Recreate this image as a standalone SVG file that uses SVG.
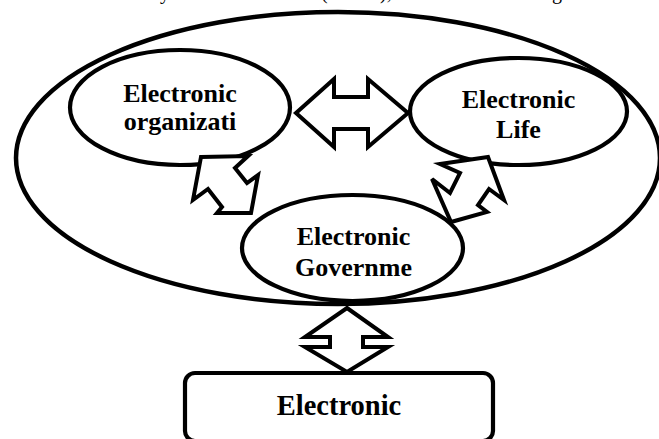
<svg xmlns="http://www.w3.org/2000/svg" width="659" height="439" viewBox="0 0 659 439">
<style>
.sh{fill:none;stroke:#000;stroke-width:4.5}
.nd{fill:#fff;stroke:#000;stroke-width:4.2}
.ar{fill:#fff;stroke:#000;stroke-width:4;stroke-linejoin:miter}
.lb{font-family:"Liberation Serif","Times New Roman",serif;font-weight:bold;font-size:26px;text-anchor:middle;fill:#000}
.tp{font-family:"Liberation Serif","Times New Roman",serif;font-size:20px;fill:#000}
</style>
<rect width="659" height="439" fill="#fff"/>
<g id="cut-text">
<text class="tp" x="160" y="-1">y</text>
<text class="tp" x="321" y="-1">(</text>
<text class="tp" x="380" y="-1">),</text>
<text class="tp" x="552" y="-1">g</text>
</g>
<g id="outer">
<ellipse class="sh" cx="338" cy="158" rx="322" ry="146"/>
</g>
<g id="n-organization">
<ellipse class="nd" cx="180" cy="107.5" rx="110" ry="57.5"/>
<text class="lb" x="180" y="102">Electronic</text>
<text class="lb" x="180" y="130">organizati</text>
</g>
<g id="n-life">
<ellipse class="nd" cx="518.5" cy="111.5" rx="108.5" ry="53.5"/>
<text class="lb" x="518.5" y="108">Electronic</text>
<text class="lb" x="518.5" y="138">Life</text>
</g>
<g id="n-government">
<ellipse class="nd" cx="352.5" cy="248" rx="110.5" ry="53"/>
<text class="lb" x="353.5" y="245">Electronic</text>
<text class="lb" x="353.5" y="276">Governme</text>
</g>
<g id="n-bottom">
<rect class="nd" x="185" y="373" width="308" height="68" rx="10"/>
<text class="lb" x="339" y="415" style="font-size:28.5px">Electronic</text>
</g>
<g id="connectors">
<polygon class="ar" points="296,113 334,79 334,97 368,97 368,79 408,113 368,147 368,129 334,129 334,147"/>
<polygon class="ar" points="201,157 248,156 235,168 247,183 258,175 251,213 217,213 222,207 208,189 193,200"/>
<polygon class="ar" points="440,164 488,157 504,200 489,189 478,205 487,212 451,222 432,179 450,193 460,173"/>
<polygon class="ar" points="347,308 388,337 363,337 363,347 388,347 347,372 305,347 330,347 330,337 305,337"/>
</g>
</svg>
